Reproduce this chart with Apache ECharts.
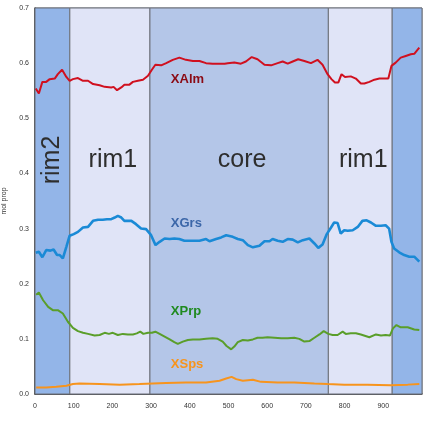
<!DOCTYPE html>
<html>
<head>
<meta charset="utf-8">
<script src="https://cdn.jsdelivr.net/npm/echarts@6/dist/echarts.min.js"></script>
<style>
  html, body { margin: 0; padding: 0; background: #ffffff; }
  #chart { width: 423px; height: 421px; }
</style>
</head>
<body>
<div id="chart"></div>
<script>
// Garnet end-member profile across the grain (distance vs. mole proportion)

// Zones along the traverse
const zoneNames = ['rim2', 'rim1', 'core', 'rim1', 'rim2'];
const zoneStart = [0, 90, 297, 758, 923];
const zoneEnd = [90, 297, 758, 923, 1000];

// Almandine
const almX = [2, 10, 19, 29, 38, 51, 59, 70, 81, 89.5, 98, 111, 124, 137, 150, 167, 180, 197, 203, 212, 223, 231, 244, 253, 266, 279, 292, 302, 311, 326, 339, 356, 373, 390, 408, 425, 442, 459, 477, 490, 498, 515, 532, 545, 560, 575, 593, 610, 627, 640, 653, 666, 680, 696, 713, 730, 743, 756, 766, 775, 784, 792, 801, 816, 829, 842, 851, 864, 877, 890, 902, 913, 921, 932, 945, 958, 971, 980, 993];
const almY = [0.554, 0.545, 0.566, 0.566, 0.571, 0.572, 0.580, 0.588, 0.575, 0.568, 0.571, 0.573, 0.568, 0.568, 0.562, 0.560, 0.557, 0.556, 0.557, 0.551, 0.556, 0.561, 0.561, 0.566, 0.568, 0.570, 0.577, 0.588, 0.597, 0.596, 0.600, 0.606, 0.610, 0.606, 0.604, 0.604, 0.600, 0.599, 0.599, 0.599, 0.600, 0.601, 0.599, 0.603, 0.611, 0.607, 0.597, 0.596, 0.600, 0.603, 0.599, 0.603, 0.607, 0.604, 0.600, 0.606, 0.597, 0.580, 0.571, 0.565, 0.565, 0.580, 0.575, 0.576, 0.572, 0.563, 0.563, 0.566, 0.570, 0.572, 0.572, 0.572, 0.595, 0.601, 0.610, 0.613, 0.616, 0.617, 0.628];

// Grossular
const grsX = [2, 10, 19, 29, 40, 48, 57, 64, 72, 81, 89.5, 100, 111, 124, 137, 150, 163, 175, 186, 197, 206, 214, 223, 231, 249, 261, 274, 287, 300, 311.5, 322, 335, 348, 360, 373, 386, 403, 425, 442, 451, 468, 481, 494, 511, 524, 537, 550, 563, 580, 593, 606, 614, 627, 640, 653, 666, 679, 692, 709, 722, 732, 743, 754, 765, 773, 782, 790, 799, 808, 821, 834, 846, 857, 868, 881, 894, 906, 915, 921, 928, 941, 954, 967, 980, 993];
const grsY = [0.256, 0.258, 0.248, 0.261, 0.260, 0.262, 0.252, 0.252, 0.246, 0.267, 0.287, 0.290, 0.294, 0.302, 0.303, 0.314, 0.316, 0.316, 0.317, 0.317, 0.320, 0.323, 0.320, 0.314, 0.314, 0.308, 0.300, 0.299, 0.288, 0.270, 0.276, 0.282, 0.281, 0.282, 0.281, 0.278, 0.278, 0.278, 0.281, 0.277, 0.281, 0.284, 0.288, 0.285, 0.281, 0.279, 0.270, 0.266, 0.269, 0.277, 0.277, 0.281, 0.278, 0.276, 0.281, 0.280, 0.275, 0.279, 0.282, 0.273, 0.265, 0.271, 0.290, 0.302, 0.311, 0.310, 0.291, 0.297, 0.296, 0.297, 0.303, 0.314, 0.315, 0.311, 0.305, 0.305, 0.306, 0.300, 0.276, 0.264, 0.257, 0.252, 0.249, 0.249, 0.240];

// Pyrope
const prpX = [3, 10, 21, 34, 46, 59, 72, 85, 98, 111, 124, 137, 154, 167, 180, 191, 201, 214, 227, 240, 253, 263, 272, 280, 292, 302, 311, 322, 335, 348, 360, 369, 382, 395, 408, 425, 442, 459, 472, 485, 495, 507, 515, 524, 537, 550, 563, 575, 588, 601, 619, 636, 653, 670, 683, 696, 709, 722, 735, 746, 758, 769, 782, 795, 803, 816, 829, 842, 864, 881, 894, 906, 917, 925, 934, 945, 963, 980, 993];
const prpY = [0.180, 0.184, 0.170, 0.158, 0.152, 0.152, 0.146, 0.131, 0.120, 0.114, 0.111, 0.109, 0.106, 0.107, 0.111, 0.109, 0.111, 0.107, 0.109, 0.108, 0.108, 0.110, 0.113, 0.109, 0.111, 0.111, 0.113, 0.109, 0.104, 0.099, 0.094, 0.091, 0.095, 0.098, 0.099, 0.099, 0.100, 0.101, 0.100, 0.095, 0.087, 0.081, 0.086, 0.094, 0.098, 0.097, 0.099, 0.102, 0.102, 0.103, 0.102, 0.101, 0.101, 0.102, 0.100, 0.095, 0.096, 0.102, 0.108, 0.114, 0.109, 0.107, 0.107, 0.113, 0.109, 0.110, 0.110, 0.108, 0.103, 0.108, 0.106, 0.107, 0.106, 0.119, 0.125, 0.121, 0.121, 0.117, 0.116];

// Spessartine
const spsX = [3, 29, 55, 81, 98, 115, 167, 219, 270, 304, 339, 390, 442, 477, 494, 508, 520, 537, 563, 584, 627, 670, 722, 756, 799, 859, 919, 963, 993];
const spsY = [0.012, 0.012, 0.013, 0.015, 0.018, 0.019, 0.018, 0.017, 0.018, 0.019, 0.020, 0.021, 0.021, 0.024, 0.028, 0.031, 0.027, 0.024, 0.026, 0.022, 0.021, 0.021, 0.019, 0.018, 0.017, 0.017, 0.016, 0.017, 0.018];

// In-plot series names and where they sit (data coordinates)
const seriesNames = ['XAlm', 'XGrs', 'XPrp', 'XSps'];
const nameAnchorX = [351, 351, 351, 351];
const nameAnchorY = [0.570, 0.310, 0.150, 0.054];

const zip = (xs, ys) => xs.map((x, i) => [x, ys[i]]);

const zoneFill = { rim2: '#93b5e8', rim1: '#e0e4f7', core: '#b4c6e8' };

const lineColors = ['#d0101f', '#1a8ad6', '#5a9e2a', '#f7941d'];
const textColors = ['#8b0a14', '#3b66a8', '#1f8a1f', '#f7941d'];
const lineWidths = [2, 2.6, 2, 2];
const seriesData = [zip(almX, almY), zip(grsX, grsY), zip(prpX, prpY), zip(spsX, spsY)];

const zoneAreas = zoneNames.map((n, i) => {
  const rotated = (i === 0);
  return [
    {
      xAxis: zoneStart[i],
      yAxis: 0,
      itemStyle: { color: zoneFill[n], borderColor: '#6b6f78', borderWidth: 1 },
      label: {
        show: i < 4,
        formatter: n,
        position: 'inside',
        rotate: rotated ? 90 : 0,
        offset: rotated ? [41, 0] : [3, -41],
        fontSize: 25,
        fontFamily: 'Liberation Sans, Arial, sans-serif',
        color: '#2e2e2e'
      }
    },
    { xAxis: zoneEnd[i], yAxis: 0.7 }
  ];
});

const lineSeries = seriesNames.map((name, k) => ({
  name: name,
  type: 'line',
  data: seriesData[k],
  showSymbol: false,
  symbol: 'none',
  smooth: false,
  z: 5,
  lineStyle: { color: lineColors[k], width: lineWidths[k] },
  markPoint: {
    symbol: 'circle',
    symbolSize: 0,
    silent: true,
    data: [{
      coord: [nameAnchorX[k], nameAnchorY[k]],
      label: {
        show: true,
        formatter: name,
        position: 'right',
        distance: 0,
        color: textColors[k],
        fontSize: 13,
        fontWeight: 'bold',
        fontFamily: 'Liberation Sans, Arial, sans-serif'
      }
    }]
  }
}));

const chart = echarts.init(document.getElementById('chart'), null, { renderer: 'canvas' });
chart.setOption({
  animation: false,
  backgroundColor: '#ffffff',
  grid: {
    left: 35, right: 1, top: 8, bottom: 27,
    containLabel: false,
    outerBoundsMode: 'none',
    show: true, borderColor: '#6b6f78', borderWidth: 1, backgroundColor: 'transparent'
  },
  xAxis: {
    type: 'value',
    min: 0, max: 1000, interval: 100,
    axisLine: { show: true, lineStyle: { color: '#333', width: 1.5 } },
    axisTick: { show: false },
    splitLine: { show: false },
    axisLabel: { showMaxLabel: false, fontSize: 7, color: '#333', margin: 9, fontFamily: 'Liberation Sans, Arial, sans-serif' }
  },
  yAxis: {
    type: 'value',
    min: 0, max: 0.7, interval: 0.1,
    name: 'mol prop',
    nameLocation: 'middle',
    nameGap: 27,
    nameRotate: 90,
    nameTextStyle: { fontSize: 7, color: '#333', fontFamily: 'Liberation Sans, Arial, sans-serif' },
    axisLine: { show: true, lineStyle: { color: '#333', width: 1.5 } },
    axisTick: { show: false },
    splitLine: { show: false },
    axisLabel: {
      fontSize: 7, color: '#333', margin: 6,
      fontFamily: 'Liberation Sans, Arial, sans-serif',
      formatter: v => v.toFixed(1)
    }
  },
  series: [
    {
      name: 'zones',
      type: 'line',
      data: [],
      z: 1,
      silent: true,
      markArea: { silent: true, data: zoneAreas }
    }
  ].concat(lineSeries)
});
</script>
</body>
</html>
